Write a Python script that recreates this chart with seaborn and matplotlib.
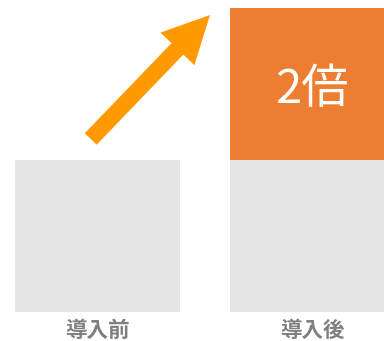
import matplotlib
matplotlib.use("Agg")
import matplotlib.pyplot as plt
from matplotlib.patches import FancyArrow
import seaborn as sns
import pandas as pd

periods = ["導入前", "導入後"]
base_values = [1.0, 1.0]
total_values = [1.0, 2.0]
ratio_label = "2倍"

sns.set_theme(style="white")
plt.rcParams["font.family"] = ["Noto Sans CJK JP", "DejaVu Sans"]

gray = "#E4E4E4"
orange = "#ED7D31"
arrow_color = "#FF9900"
label_color = "#7F7F7F"

df = pd.DataFrame({"period": periods, "base": base_values, "total": total_values})

fig = plt.figure(figsize=(3.84, 3.41), dpi=100)
ax = fig.add_axes([0, 29 / 341, 1, 312 / 341])

sns.barplot(data=df, x="period", y="total", hue="period",
            palette=[gray, orange], width=0.769, ax=ax, legend=False,
            saturation=1, edgecolor="none", linewidth=0)
sns.barplot(data=df, x="period", y="base", color=gray, width=0.769, ax=ax,
            saturation=1, edgecolor="none", linewidth=0)

ax.set_xlim(-0.4545, 1.3357)
ax.set_ylim(0, 2.0526)
ax.set_xlabel("")
ax.set_ylabel("")
ax.set_yticks([])
for s in ax.spines.values():
    s.set_visible(False)
ax.tick_params(axis="x", length=0, pad=5.5)
for t in ax.get_xticklabels():
    t.set_fontsize(15.5)
    t.set_fontweight("bold")
    t.set_color(label_color)

ax.text(1, (base_values[1] + total_values[1]) / 2 - 0.04, ratio_label,
        ha="center", va="center", color="white", fontsize=34)

# overlay for arrow in pixel coordinates
ov = fig.add_axes([0, 0, 1, 1])
ov.set_xlim(0, 384)
ov.set_ylim(341, 0)
ov.axis("off")
ov.patch.set_alpha(0)
ov.add_patch(FancyArrow(90.7, 139, 119.3, -124, width=16.5, head_width=47,
                        head_length=47, length_includes_head=True,
                        color=arrow_color, linewidth=0))

fig.savefig("out.png", dpi=100)
